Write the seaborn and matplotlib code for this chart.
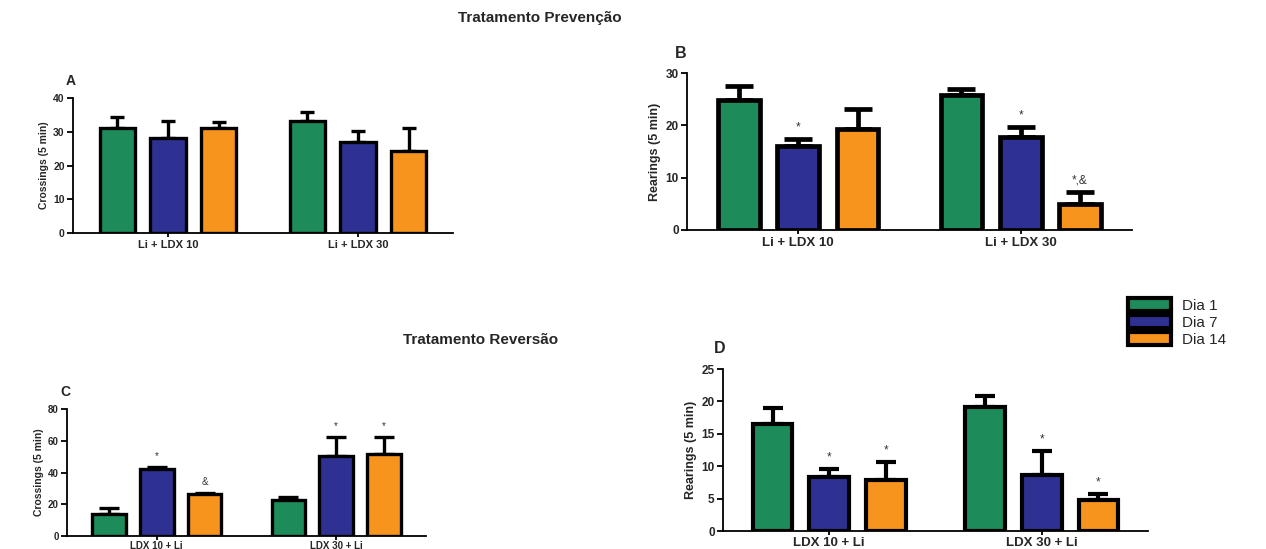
import matplotlib
matplotlib.use("Agg")
import matplotlib.pyplot as plt
from matplotlib.patches import Patch
import matplotlib.transforms as mtransforms
import seaborn as sns
import pandas as pd
import numpy as np

sns.set_theme(style="ticks")
plt.rcParams['font.family'] = ['Liberation Sans', 'DejaVu Sans']

days = ["Dia 1", "Dia 7", "Dia 14"]
colors = ["#1e8c5a", "#2e3191", "#f7941d"]

groups_prev = ["Li + LDX 10", "Li + LDX 30"]
groups_rev = ["LDX 10 + Li", "LDX 30 + Li"]

# Panel A: Crossings, prevention (mean and upper end of error bar)
A_d1 = [31.0, 33.1]; A_d1_up = [34.4, 36.0]
A_d7 = [28.2, 26.9]; A_d7_up = [33.1, 30.3]
A_d14 = [31.1, 24.2]; A_d14_up = [32.8, 31.0]
A_marks = [["", ""], ["", ""], ["", ""]]

# Panel B: Rearings, prevention
B_d1 = [24.8, 25.8]; B_d1_up = [27.6, 27.0]
B_d7 = [16.0, 17.7]; B_d7_up = [17.4, 19.6]
B_d14 = [19.3, 5.0]; B_d14_up = [23.2, 7.3]
B_marks = [["", ""], ["*", "*"], ["", "*,&"]]

# Panel C: Crossings, reversal
C_d1 = [14.1, 22.5]; C_d1_up = [17.5, 24.6]
C_d7 = [41.9, 50.3]; C_d7_up = [43.6, 62.5]
C_d14 = [26.3, 51.6]; C_d14_up = [27.4, 62.5]
C_marks = [["", ""], ["*", "*"], ["&", "*"]]

# Panel D: Rearings, reversal
D_d1 = [16.5, 19.2]; D_d1_up = [19.0, 20.9]
D_d7 = [8.4, 8.7]; D_d7_up = [9.6, 12.4]
D_d14 = [7.9, 4.8]; D_d14_up = [10.6, 5.7]
D_marks = [["", ""], ["*", "*"], ["*", "*"]]

W, H = 1266, 549
fig = plt.figure(figsize=(W / 100, H / 100), dpi=100)


def px_axes(left, right, top, bottom):
    return fig.add_axes([left / W, 1 - bottom / H, (right - left) / W, (bottom - top) / H])


def panel(ax, groups, means, uppers, marks, ymax, ystep, ylabel, letter,
          tick_fs, xlab_fs, ylab_fs, lw, cap, letter_fs, letter_dx, letter_dy, xpad):
    rows = []
    for d, m in zip(days, means):
        for g, v in zip(groups, m):
            rows.append({"grp": g, "day": d, "val": v})
    df = pd.DataFrame(rows)
    sns.barplot(data=df, x="grp", y="val", hue="day", order=groups, hue_order=days,
                palette=colors, errorbar=None, width=0.8, gap=0.3,
                edgecolor="black", linewidth=lw, saturation=1, ax=ax, legend=False,
                zorder=3)
    bar_conts = list(ax.containers)
    for ci, cont in enumerate(bar_conts):
        for bi, bar in enumerate(cont.patches):
            x = bar.get_x() + bar.get_width() / 2
            h = bar.get_height()
            up = uppers[ci][bi]
            ax.errorbar([x], [h], yerr=[[0], [up - h]], fmt="none", ecolor="black",
                        elinewidth=lw, capsize=cap, capthick=lw, zorder=2)
            mk = marks[ci][bi]
            if mk:
                ax.annotate(mk, (x, up), xytext=(0, 4), textcoords="offset points",
                            ha="center", va="bottom", fontsize=tick_fs,
                            color="#333333")
    ax.set_xlim(-0.5, 1.5)
    ax.set_ylim(0, ymax)
    ax.set_yticks(np.arange(0, ymax + 0.01, ystep))
    ax.set_xlabel("")
    ax.set_ylabel(ylabel, fontsize=ylab_fs, fontweight="bold", labelpad=3)
    for lab in ax.get_yticklabels():
        lab.set_fontweight("bold"); lab.set_fontsize(tick_fs)
    ax.set_xticks(range(len(groups)))
    ax.set_xticklabels(groups, fontsize=xlab_fs, fontweight="bold")
    sns.despine(ax=ax)
    for s in ["left", "bottom"]:
        ax.spines[s].set_linewidth(1.3)
        ax.spines[s].set_color("black")
    ax.tick_params(axis="both", length=4, width=1.3, pad=2, color="black")
    ax.tick_params(axis="x", pad=xpad, length=3)
    trans = ax.transAxes + mtransforms.ScaledTranslation(letter_dx / 100, letter_dy / 100,
                                                         fig.dpi_scale_trans)
    ax.text(0, 1, letter, transform=trans, ha="center", va="bottom",
            fontsize=letter_fs, fontweight="bold")


axA = px_axes(73, 453, 98, 233)
panel(axA, groups_prev, [A_d1, A_d7, A_d14], [A_d1_up, A_d7_up, A_d14_up], A_marks,
      40, 10, "Crossings (5 min)", "A", 7.5, 8, 7.5, 2.4, 5, 10, -2, 10, 2)

axB = px_axes(687, 1132, 73, 230)
panel(axB, groups_prev, [B_d1, B_d7, B_d14], [B_d1_up, B_d7_up, B_d14_up], B_marks,
      30, 10, "Rearings (5 min)", "B", 8.5, 9.5, 9, 3.4, 10, 11.5, -6, 12, 2)

axC = px_axes(67, 426, 409, 536)
panel(axC, groups_rev, [C_d1, C_d7, C_d14], [C_d1_up, C_d7_up, C_d14_up], C_marks,
      80, 20, "Crossings (5 min)", "C", 7, 7, 7.5, 2.4, 7, 10, -2, 10, 0.5)

axD = px_axes(723, 1148, 369, 531)
panel(axD, groups_rev, [D_d1, D_d7, D_d14], [D_d1_up, D_d7_up, D_d14_up], D_marks,
      25, 5, "Rearings (5 min)", "D", 8.5, 9.5, 9, 3.0, 7, 11.5, -3, 13, 1.5)

fig.text(540 / W, 1 - 18 / H, "Tratamento Prevenção", ha="center", va="center",
         fontsize=11, fontweight="bold")
fig.text(481 / W, 1 - 340 / H, "Tratamento Reversão", ha="center", va="center",
         fontsize=11, fontweight="bold")

handles = [Patch(facecolor=c, edgecolor="black", linewidth=3, label=d)
           for c, d in zip(colors, days)]
fig.legend(handles=handles, loc="upper left", bbox_to_anchor=(1122 / W, 1 - 292 / H),
           frameon=False, fontsize=11, handlelength=2.8, handleheight=0.9,
           labelspacing=0.15, handletextpad=0.7, borderaxespad=0)

fig.savefig("out.png", dpi=100)
